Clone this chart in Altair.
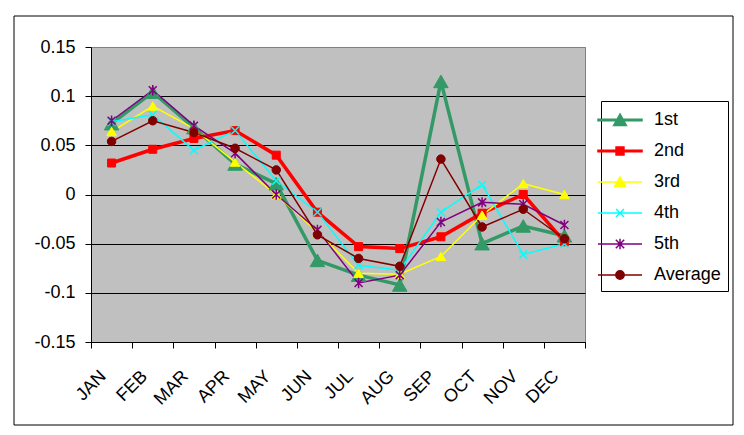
import altair as alt
import pandas as pd

months = ["JAN", "FEB", "MAR", "APR", "MAY", "JUN", "JUL", "AUG", "SEP", "OCT", "NOV", "DEC"]
series_names = ["1st", "2nd", "3rd", "4th", "5th", "Average"]

s1st = [0.072, 0.104, 0.068, 0.031, 0.011, -0.067, -0.082, -0.092, 0.115, -0.050, -0.032, -0.042]
s2nd = [0.032, 0.046, 0.057, 0.065, 0.040, -0.018, -0.053, -0.055, -0.043, -0.019, 0.000, -0.048]
s3rd = [0.064, 0.090, 0.067, 0.033, 0.000, -0.038, -0.080, -0.081, -0.063, -0.021, 0.011, 0.000]
s4th = [0.074, 0.081, 0.045, 0.065, 0.014, -0.018, -0.072, -0.077, -0.018, 0.010, -0.061, -0.050]
s5th = [0.075, 0.106, 0.070, 0.042, 0.000, -0.036, -0.090, -0.082, -0.028, -0.008, -0.010, -0.031]
savg = [0.054, 0.075, 0.063, 0.047, 0.025, -0.041, -0.065, -0.073, 0.036, -0.033, -0.015, -0.045]

y_ticks = [-0.15, -0.1, -0.05, 0, 0.05, 0.1, 0.15]

colors = ["#339966", "#FF0000", "#FFFF00", "#00FFFF", "#800080", "#800000"]
line_widths = [3.5, 3.5, 1.5, 1.5, 1.5, 1.5]
shapes = [
    "triangle-up",
    "square",
    "triangle-up",
    "M-1,-1L1,1M-1,1L1,-1",
    "M-1,-1L1,1M-1,1L1,-1M0,-1.3V1.3",
    "circle",
]
sizes = [210, 64, 95, 64, 64, 72]
legend_shapes = [
    "M-2,-0.07H2V0.07H-2ZM0,-0.55L0.58,0.5L-0.58,0.5Z",
    "M-2,-0.07H2V0.07H-2ZM-0.36,-0.36H0.36V0.36H-0.36Z",
    "M-2,0H2M0,-0.45L0.48,0.38L-0.48,0.38Z",
    "M-2,0H2M-0.36,-0.36L0.36,0.36M-0.36,0.36L0.36,-0.36",
    "M-2,0H2M-0.38,-0.38L0.38,0.38M-0.38,0.38L0.38,-0.38M0,-0.48V0.48",
    "M-2,0H2M-0.38,0A0.38,0.38,0,1,1,0.38,0A0.38,0.38,0,1,1,-0.38,0Z",
]

all_vals = [s1st, s2nd, s3rd, s4th, s5th, savg]
rows = []
for name, vals in zip(series_names, all_vals):
    for m, v in zip(months, vals):
        rows.append({"month": m, "series": name, "value": v})
df = pd.DataFrame(rows)

FONT = "Liberation Sans"

x_enc = alt.X(
    "month:N",
    sort=months,
    bandPosition=0.5,
    scale=alt.Scale(type="band", domain=months, paddingInner=0, paddingOuter=0),
    axis=alt.Axis(
        title=None,
        tickBand="extent",
        labelAngle=315,
        labelAlign="right",
        labelBaseline="top",
        labelOffset=-15,
        labelPadding=19,
        tickSize=6,
        tickColor="black",
        domainColor="black",
        labelColor="black",
        labelFont=FONT,
        labelFontSize=18,
        grid=False,
    ),
)
y_enc = alt.Y(
    "value:Q",
    scale=alt.Scale(domain=[-0.15, 0.15], nice=False, zero=False),
    axis=alt.Axis(
        title=None,
        values=y_ticks,
        labelExpr="'' + round(datum.value * 100) / 100",
        tickSize=6,
        labelPadding=10,
        tickColor="black",
        domainColor="black",
        labelColor="black",
        labelFont=FONT,
        labelFontSize=18,
        grid=True,
        gridColor={"condition": {"test": "datum.value > 0.14", "value": "#808080"}, "value": "black"},
        gridWidth=1,
        gridOpacity=1,
    ),
)

border = alt.Chart(alt.Data(values=[{"a": 1}])).mark_rect(
    filled=False, stroke="black", strokeWidth=1
).encode(
    x=alt.value(-77), x2=alt.value(642), y=alt.value(-31), y2=alt.value(378)
)

layers = [border]
for i, name in enumerate(series_names):
    sub = df[df["series"] == name]
    layers.append(
        alt.Chart(sub).mark_line(color=colors[i], strokeWidth=line_widths[i]).encode(x=x_enc, y=y_enc)
    )
for i, name in enumerate(series_names):
    sub = df[df["series"] == name]
    sw = 1.5 if i in (3, 4) else 1
    layers.append(
        alt.Chart(sub).mark_point(
            shape=shapes[i], size=sizes[i], fill=colors[i], stroke=colors[i],
            strokeWidth=sw, opacity=1, fillOpacity=1, filled=True
        ).encode(x=x_enc, y=y_enc)
    )

legend_df = pd.DataFrame({"series": series_names})
leg = alt.Legend(
    title=None,
    orient="none",
    legendX=510,
    legendY=54,
    strokeColor="black",
    fillColor="white",
    padding=7,
    labelFont=FONT,
    labelFontSize=18,
    labelColor="black",
    symbolSize=484,
    symbolStrokeWidth=1.5,
    symbolOpacity=1,
    labelOffset=22,
    rowPadding=10,
    cornerRadius=0,
)
legend_layer = alt.Chart(legend_df).mark_point(opacity=1).encode(
    x=alt.value(-2000),
    y=alt.value(-2000),
    fill=alt.Fill("series:N", scale=alt.Scale(domain=series_names, range=colors), legend=leg),
    stroke=alt.Stroke("series:N", scale=alt.Scale(domain=series_names, range=colors), legend=leg),
    shape=alt.Shape("series:N", scale=alt.Scale(domain=series_names, range=legend_shapes), legend=leg),
)
layers.append(legend_layer)

chart = alt.layer(*layers).properties(
    width=494,
    height=295,
    padding={"left": 83, "top": 39, "right": 149, "bottom": 84},
    autosize=alt.AutoSizeParams(type="none"),
    background="white",
).configure_view(fill="#C0C0C0", stroke="#808080", strokeWidth=1)

chart.save("out.html", embed_options={"renderer": "svg", "actions": False})
